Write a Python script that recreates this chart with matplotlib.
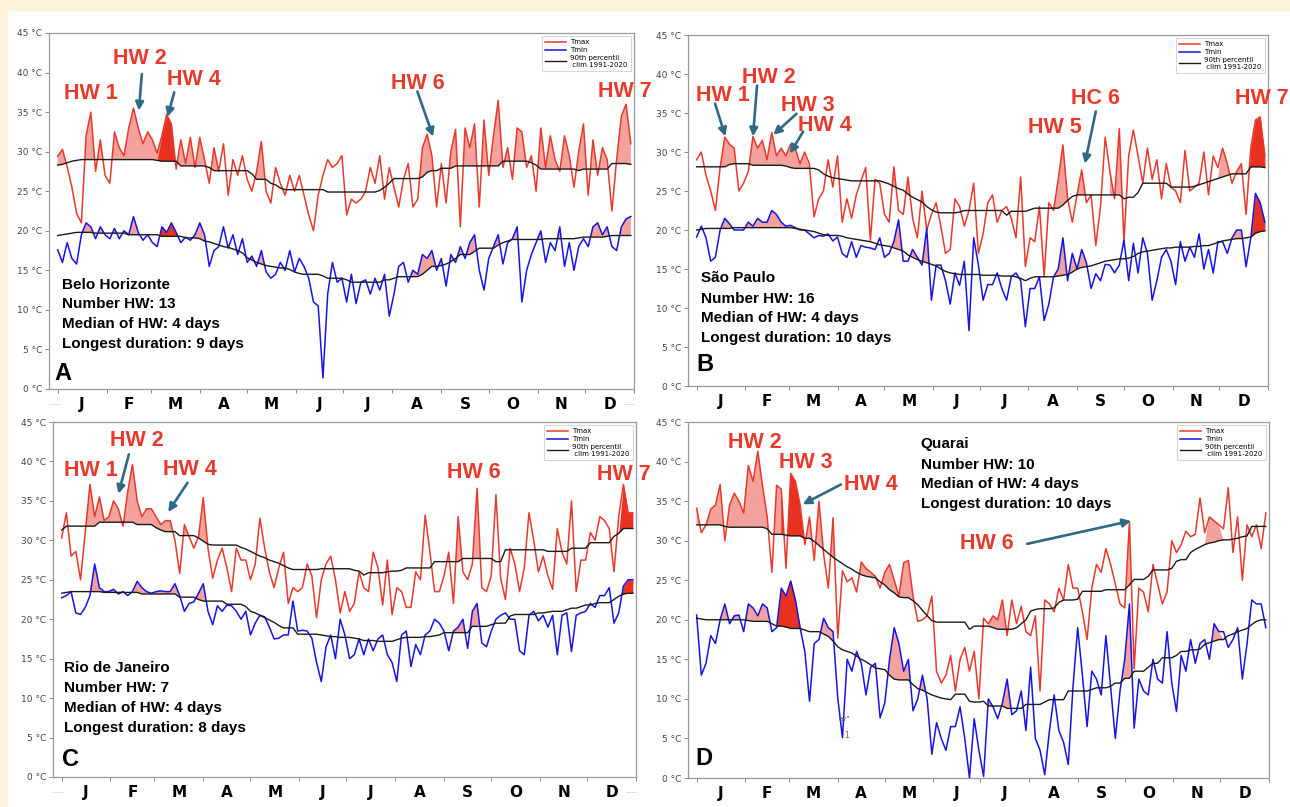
import numpy as np
import matplotlib
matplotlib.use("Agg")
import matplotlib.pyplot as plt
from matplotlib.patches import Rectangle
import matplotlib.transforms as mtransforms

STEP = 3  # days between samples (day 0 = 1 Jan)
MONTHS = ["J", "F", "M", "A", "M", "J", "J", "A", "S", "O", "N", "D"]
MONTH_START = [0, 31, 59, 90, 120, 151, 181, 212, 243, 273, 304, 334, 365]

# ---------------- A: Belo Horizonte ----------------
A_TMAX = [29.4, 30.3, 28.1, 25.5, 22.2, 21.0, 32.0, 35.0, 27.5, 31.5,
          27.0, 26.0, 32.5, 30.5, 29.5, 33.0, 35.5, 33.0, 31.0, 32.5,
          31.5, 29.8, 32.0, 34.7, 33.5, 27.8, 31.5, 28.5, 31.8, 28.0,
          31.8, 29.0, 26.0, 30.5, 27.5, 31.0, 24.5, 29.0, 27.0, 29.5,
          26.5, 25.0, 27.5, 31.3, 25.0, 23.5, 28.0, 26.0, 24.5, 27.0,
          25.0, 27.0, 24.5, 22.0, 20.0, 24.5, 27.0, 29.0, 28.0, 28.5,
          29.5, 22.0, 24.0, 23.5, 24.0, 25.0, 28.0, 26.0, 29.5, 24.0,
          28.0, 25.5, 23.0, 26.5, 28.5, 23.0, 24.0, 30.5, 32.2, 29.5,
          23.0, 28.5, 23.5, 30.0, 32.8, 20.5, 33.0, 30.5, 33.5, 23.0,
          34.0, 27.0, 32.0, 36.5, 28.0, 30.5, 26.5, 33.0, 32.5, 28.0,
          29.5, 25.0, 33.0, 28.0, 32.0, 29.0, 27.5, 32.0, 29.5, 25.5,
          30.0, 33.5, 24.5, 31.5, 27.0, 30.5, 29.0, 22.5, 29.0, 34.5,
          36.0, 31.0]
A_TMIN = [17.6, 16.0, 18.5, 16.5, 15.8, 19.5, 21.0, 20.5, 19.0, 20.5,
          19.5, 19.0, 20.3, 19.0, 20.0, 19.5, 21.8, 19.8, 18.8, 19.5,
          18.5, 18.0, 20.5, 19.8, 21.0, 19.8, 18.5, 19.2, 18.8, 19.5,
          21.0, 19.5, 15.5, 17.5, 18.0, 20.5, 17.8, 19.5, 17.0, 19.0,
          16.0, 16.8, 15.5, 17.5, 14.8, 14.0, 14.5, 16.0, 15.0, 17.5,
          14.8, 16.5, 15.5, 14.0, 11.0, 10.5, 1.4, 12.0, 16.0, 13.5,
          14.0, 11.0, 14.5, 10.8, 13.5, 13.8, 12.0, 14.0, 12.5, 14.5,
          9.2, 12.0, 15.5, 16.0, 13.5, 15.0, 14.5, 17.0, 16.5, 17.5,
          15.0, 16.5, 13.0, 17.0, 16.0, 18.0, 16.5, 18.5, 19.5, 15.0,
          12.5, 16.5, 18.0, 19.5, 15.8, 18.5, 19.0, 20.5, 11.0, 15.0,
          17.0, 18.5, 20.0, 16.0, 18.5, 17.5, 20.5, 15.5, 18.5, 15.0,
          18.0, 19.0, 18.0, 20.5, 21.0, 19.5, 20.5, 18.0, 17.5, 20.5,
          21.5, 21.8]
A_P90_MAX = [28.3, 28.4, 28.6, 28.8, 28.9, 29.0, 29.0, 29.0, 29.0, 29.0,
             29.0, 29.0, 29.0, 29.0, 29.0, 29.0, 29.0, 29.0, 29.0, 29.0,
             29.0, 28.9, 28.8, 28.8, 28.8, 28.8, 28.2, 28.2, 28.2, 28.2,
             28.2, 28.2, 28.0, 27.6, 27.6, 27.6, 27.6, 27.6, 27.6, 27.6,
             27.6, 27.2, 26.5, 26.5, 26.5, 26.0, 25.8, 25.4, 25.2, 25.2,
             25.2, 25.2, 25.2, 25.2, 25.2, 25.2, 25.2, 24.9, 24.9, 24.9,
             24.9, 24.9, 24.9, 24.9, 24.9, 24.9, 24.9, 24.9, 25.1, 25.5,
             26.0, 26.6, 26.6, 26.6, 26.6, 26.6, 26.6, 26.8, 27.4, 27.6,
             27.6, 27.9, 27.9, 27.9, 28.2, 28.2, 28.2, 28.2, 28.2, 28.2,
             28.2, 28.2, 28.2, 28.2, 28.8, 28.8, 28.8, 28.8, 28.8, 28.8,
             28.6, 28.3, 27.8, 27.8, 27.8, 27.8, 27.8, 27.8, 27.8, 27.8,
             27.6, 27.8, 27.8, 27.8, 27.8, 27.8, 27.8, 28.5, 28.5, 28.5,
             28.5, 28.4]
A_P90_MIN = [19.4, 19.5, 19.6, 19.7, 19.8, 19.8, 19.8, 19.8, 19.7, 19.7,
             19.7, 19.7, 19.7, 19.7, 19.7, 19.5, 19.5, 19.5, 19.5, 19.5,
             19.5, 19.5, 19.3, 19.3, 19.3, 19.3, 19.3, 19.1, 19.1, 19.1,
             19.0, 18.7, 18.6, 18.4, 18.2, 18.0, 17.9, 17.7, 17.5, 17.2,
             16.6, 16.3, 16.0, 15.8, 15.6, 15.5, 15.4, 15.3, 15.3, 15.1,
             14.8, 14.6, 14.5, 14.5, 14.5, 14.5, 14.3, 14.0, 14.0, 14.0,
             14.0, 13.8, 13.5, 13.5, 13.5, 13.5, 13.5, 13.5, 13.5, 13.8,
             13.8, 14.0, 14.2, 14.2, 14.2, 14.2, 14.2, 14.5, 15.0, 15.5,
             15.5, 15.6, 15.8, 16.1, 16.5, 17.0, 17.0, 17.0, 17.4, 17.8,
             17.8, 17.8, 17.8, 18.2, 18.5, 18.7, 18.9, 18.9, 18.9, 18.9,
             18.9, 18.9, 18.9, 19.0, 19.0, 19.0, 19.0, 19.0, 19.0, 19.0,
             19.1, 19.2, 19.2, 19.2, 19.2, 19.2, 19.3, 19.4, 19.4, 19.4,
             19.4, 19.4]

# ---------------- B: Sao Paulo ----------------
B_TMAX = [29.0, 30.0, 27.0, 25.0, 22.5, 28.0, 31.9, 31.0, 30.5, 25.0,
          26.0, 27.5, 32.0, 30.5, 31.5, 29.0, 32.5, 29.5, 30.5, 29.5,
          31.0, 30.5, 28.5, 30.0, 28.5, 21.7, 24.0, 25.0, 29.0, 25.5,
          29.5, 21.0, 24.0, 21.5, 24.5, 26.3, 28.0, 18.7, 26.5, 26.0,
          22.0, 21.0, 28.1, 22.5, 22.0, 26.8, 21.5, 19.0, 25.0, 20.0,
          22.0, 23.5, 20.5, 17.0, 17.5, 24.0, 23.0, 20.5, 22.5, 26.0,
          17.0, 19.5, 23.5, 24.5, 21.0, 22.5, 23.0, 21.5, 19.0, 26.8,
          15.3, 19.0, 18.5, 23.0, 14.0, 23.5, 22.5, 26.5, 30.9, 24.0,
          21.0, 24.5, 27.7, 23.5, 24.5, 18.0, 23.0, 31.9, 27.5, 24.0,
          33.0, 18.5, 29.5, 32.8, 29.5, 26.0, 30.5, 26.5, 29.0, 24.0,
          28.5, 25.5, 25.0, 23.5, 30.2, 25.0, 25.5, 26.0, 30.0, 24.5,
          29.5, 28.0, 30.5, 28.5, 26.0, 27.5, 28.5, 22.0, 30.5, 34.1,
          34.5, 29.5]
B_TMIN = [19.1, 20.5, 19.0, 16.0, 16.5, 20.0, 21.5, 20.8, 20.0, 20.0,
          20.0, 21.0, 20.5, 21.5, 21.0, 21.0, 22.5, 22.0, 21.0, 20.5,
          20.6, 20.3, 20.0, 20.0, 19.5, 19.0, 19.3, 19.2, 19.5, 18.6,
          19.1, 17.0, 16.5, 18.5, 16.5, 18.0, 17.8, 17.7, 17.5, 19.0,
          16.5, 17.0, 18.5, 21.3, 16.0, 16.0, 17.5, 16.5, 15.5, 20.2,
          11.0, 15.5, 15.5, 13.5, 10.5, 14.5, 12.9, 16.0, 7.1, 19.0,
          15.5, 11.0, 13.0, 13.0, 14.5, 12.5, 11.0, 14.0, 14.5, 13.5,
          7.6, 12.5, 12.5, 14.0, 8.4, 10.5, 14.0, 15.0, 19.0, 13.5,
          17.0, 15.0, 17.5, 15.8, 12.5, 14.4, 13.5, 15.6, 15.5, 14.5,
          15.5, 18.7, 13.5, 18.3, 14.5, 19.0, 17.0, 11.0, 13.5, 16.5,
          17.5, 16.0, 13.0, 18.5, 16.0, 17.8, 16.5, 19.5, 15.0, 17.5,
          14.5, 18.5, 18.5, 17.0, 19.0, 20.0, 20.0, 15.3, 19.0, 24.7,
          23.5, 21.0]
B_P90_MAX = [28.1, 28.1, 28.1, 28.1, 28.1, 28.1, 28.1, 28.4, 28.5, 28.5,
             28.5, 28.5, 28.3, 28.3, 28.3, 28.3, 28.3, 28.3, 28.3, 28.2,
             28.0, 27.9, 27.9, 27.9, 27.9, 27.9, 27.7, 27.2, 26.9, 26.7,
             26.6, 26.5, 26.4, 26.3, 26.3, 26.3, 26.3, 26.3, 26.3, 26.3,
             26.1, 25.9, 25.6, 25.3, 25.1, 24.6, 24.2, 23.9, 23.6, 23.0,
             22.6, 22.3, 22.2, 22.2, 22.2, 22.2, 22.3, 22.5, 22.5, 22.5,
             22.5, 22.5, 22.5, 22.5, 22.5, 22.5, 21.9, 22.4, 22.4, 22.4,
             22.4, 22.6, 22.8, 22.8, 22.8, 22.8, 22.8, 22.8, 23.2, 23.8,
             24.3, 24.5, 24.5, 24.5, 24.5, 24.5, 24.5, 24.5, 24.5, 24.5,
             24.5, 24.0, 24.2, 24.2, 24.8, 26.0, 26.0, 26.0, 26.0, 26.0,
             26.0, 25.5, 25.5, 25.5, 25.5, 25.5, 25.6, 25.8, 26.0, 26.2,
             26.4, 26.6, 26.8, 27.0, 27.2, 27.2, 27.2, 27.2, 28.1, 28.1,
             28.1, 28.0]
B_P90_MIN = [20.0, 20.1, 20.2, 20.2, 20.2, 20.2, 20.2, 20.2, 20.3, 20.3,
             20.3, 20.3, 20.3, 20.3, 20.3, 20.3, 20.3, 20.3, 20.3, 20.3,
             20.3, 20.2, 20.1, 20.0, 19.9, 19.8, 19.6, 19.4, 19.3, 19.3,
             19.3, 19.2, 19.0, 18.9, 18.8, 18.7, 18.6, 18.5, 18.3, 18.1,
             18.0, 17.9, 17.7, 17.5, 17.3, 16.8, 16.5, 16.2, 16.0, 15.8,
             15.6, 15.4, 15.0, 14.7, 14.5, 14.4, 14.3, 14.3, 14.3, 14.3,
             14.3, 14.2, 14.2, 14.2, 14.2, 14.1, 14.1, 14.1, 14.0, 13.8,
             13.5, 13.8, 14.0, 14.0, 14.0, 14.0, 14.0, 14.1, 14.2, 14.3,
             14.6, 15.0, 15.2, 15.3, 15.4, 15.6, 15.8, 16.0, 16.1, 16.2,
             16.3, 16.3, 16.4, 16.6, 17.0, 17.2, 17.3, 17.4, 17.5, 17.6,
             17.7, 17.7, 17.8, 17.8, 17.8, 17.8, 17.9, 17.9, 18.0, 18.0,
             18.2, 18.4, 18.6, 18.7, 18.8, 18.9, 18.9, 19.0, 19.1, 19.6,
             19.8, 19.9]

# ---------------- C: Rio de Janeiro ----------------
C_TMAX = [30.3, 33.5, 28.0, 28.6, 25.0, 31.0, 37.1, 33.0, 35.5, 32.5,
          33.0, 35.0, 34.0, 31.8, 36.2, 39.6, 35.0, 33.0, 34.0, 34.0,
          33.0, 32.0, 32.5, 32.5, 30.0, 25.8, 32.0, 30.5, 29.0, 30.5,
          35.4, 29.0, 25.2, 27.5, 29.0, 26.5, 23.5, 29.0, 27.5, 27.5,
          25.0, 27.0, 32.8, 29.0, 26.0, 24.0, 26.5, 28.5, 22.0, 24.0,
          23.5, 24.0, 27.0, 25.5, 20.2, 25.0, 27.0, 28.0, 25.0, 20.8,
          23.5, 21.0, 22.0, 26.0, 24.0, 23.5, 28.5, 26.5, 21.8, 27.5,
          20.6, 24.0, 23.5, 21.5, 21.5, 26.0, 25.0, 33.2, 28.6, 23.5,
          23.5, 25.5, 28.5, 22.0, 33.0, 26.0, 25.0, 27.0, 36.6, 24.0,
          23.5, 25.5, 35.8, 25.2, 22.5, 29.0, 27.0, 23.5, 26.5, 33.5,
          30.0, 26.0, 28.0, 25.5, 23.8, 31.5, 28.5, 27.0, 35.0, 23.5,
          27.5, 27.5, 31.0, 30.0, 33.0, 32.5, 31.5, 26.0, 33.0, 37.1,
          33.5, 33.5]
C_TMIN = [22.7, 23.0, 23.5, 20.8, 20.6, 21.5, 23.0, 27.0, 24.0, 23.5,
          23.5, 23.8, 23.2, 23.5, 23.0, 23.5, 24.8, 24.0, 23.5, 23.3,
          23.5, 23.6, 23.5, 23.5, 24.5, 23.0, 21.0, 22.0, 22.2, 23.3,
          24.5, 21.0, 19.3, 21.7, 21.0, 21.8, 21.7, 21.0, 20.0, 21.0,
          18.0, 19.5, 20.5, 20.3, 19.0, 17.5, 17.6, 18.0, 18.0, 22.3,
          18.5, 18.6, 18.5, 17.6, 14.5, 12.1, 16.5, 18.0, 15.0, 20.0,
          18.0, 15.0, 15.5, 17.5, 15.5, 17.5, 16.0, 17.5, 18.0, 15.5,
          14.5, 12.1, 18.0, 18.5, 14.0, 16.8, 15.5, 18.0, 18.5, 20.0,
          19.5, 18.5, 16.0, 18.5, 19.0, 20.0, 16.3, 21.0, 22.0, 17.0,
          16.5, 18.5, 20.0, 20.5, 20.8, 20.0, 20.0, 16.0, 15.5, 20.5,
          21.0, 19.8, 20.5, 19.0, 20.5, 15.5, 20.5, 20.8, 15.9, 20.5,
          20.8, 21.0, 22.0, 21.5, 23.0, 23.0, 24.0, 19.5, 20.8, 24.2,
          25.0, 25.0]
C_P90_MAX = [31.3, 31.8, 31.8, 31.8, 31.8, 31.8, 31.8, 31.8, 32.3, 32.3,
             32.3, 32.3, 32.3, 32.3, 32.3, 32.3, 32.0, 32.0, 32.0, 32.0,
             31.6, 31.3, 31.1, 31.1, 31.1, 30.6, 30.6, 30.6, 30.6, 30.3,
             29.9, 29.5, 29.4, 29.4, 29.4, 29.4, 29.4, 29.4, 29.1, 28.9,
             28.6, 28.3, 28.0, 27.8, 27.5, 27.3, 27.1, 26.8, 26.5, 26.3,
             26.3, 26.3, 26.3, 26.3, 26.3, 26.4, 26.4, 26.4, 26.4, 26.4,
             26.4, 26.4, 26.2, 26.1, 25.6, 25.9, 25.9, 25.9, 25.9, 26.0,
             26.1, 26.1, 26.2, 26.5, 26.5, 26.5, 26.5, 26.5, 26.5, 27.3,
             27.3, 27.3, 27.3, 27.3, 27.3, 27.7, 27.7, 27.7, 27.7, 27.7,
             27.7, 27.7, 27.3, 27.3, 28.8, 28.8, 28.8, 28.8, 28.8, 28.8,
             28.8, 28.8, 28.8, 28.6, 28.6, 28.6, 28.6, 28.6, 29.0, 29.0,
             29.0, 29.0, 29.7, 29.7, 29.7, 29.7, 29.7, 30.5, 30.9, 31.5,
             31.5, 31.5]
C_P90_MIN = [23.3, 23.4, 23.5, 23.5, 23.5, 23.5, 23.5, 23.5, 23.5, 23.4,
             23.4, 23.4, 23.4, 23.4, 23.4, 23.4, 23.4, 23.2, 23.2, 23.2,
             23.2, 23.2, 23.2, 23.2, 23.2, 22.8, 22.8, 22.8, 22.8, 22.5,
             22.3, 22.3, 22.3, 22.3, 22.3, 21.9, 21.9, 21.9, 21.9, 21.6,
             21.0, 20.8, 20.5, 20.2, 19.9, 19.6, 19.2, 18.9, 18.9, 18.9,
             18.1, 18.1, 18.1, 18.1, 18.1, 18.0, 17.9, 17.8, 17.8, 17.7,
             17.7, 17.7, 17.6, 17.5, 17.3, 17.3, 17.3, 17.2, 17.2, 17.2,
             17.2, 17.4, 17.6, 17.7, 17.7, 17.7, 17.7, 17.8, 17.8, 17.9,
             18.0, 18.3, 18.3, 18.3, 18.3, 18.3, 18.3, 19.1, 19.1, 19.1,
             19.1, 19.3, 19.5, 19.5, 19.5, 20.4, 20.6, 20.6, 20.6, 20.6,
             20.6, 20.8, 20.8, 20.9, 21.0, 21.0, 21.0, 21.2, 21.4, 21.4,
             21.6, 21.8, 21.8, 22.0, 22.1, 22.1, 22.1, 22.5, 22.9, 23.2,
             23.3, 23.3]

# ---------------- D: Quarai ----------------
D_TMAX = [34.1, 31.0, 32.0, 34.0, 34.5, 37.1, 30.0, 34.5, 36.0, 35.0,
          33.5, 39.5, 37.5, 41.3, 37.0, 33.0, 26.0, 37.0, 36.5, 26.5,
          38.5, 37.5, 34.5, 29.5, 33.0, 27.5, 35.0, 28.3, 24.0, 32.9,
          17.7, 26.2, 24.8, 25.3, 23.5, 27.3, 26.5, 26.0, 25.5, 24.0,
          26.0, 27.0, 25.0, 23.0, 27.2, 27.5, 23.0, 19.8, 20.0, 20.5,
          23.0, 13.5, 12.0, 13.0, 15.5, 11.0, 15.0, 16.5, 13.5, 16.0,
          10.0, 20.2, 19.5, 20.5, 20.0, 22.5, 18.0, 22.5, 19.5, 21.7,
          18.5, 18.0, 20.5, 11.0, 22.5, 22.0, 21.0, 24.0, 22.5, 27.0,
          24.0, 24.0, 21.0, 17.5, 24.0, 27.0, 26.0, 29.0, 27.0, 24.5,
          22.0, 21.5, 32.4, 13.8, 24.0, 23.5, 21.0, 27.0, 24.5, 22.0,
          23.5, 30.0, 28.5, 29.5, 31.2, 30.5, 30.8, 35.4, 31.0, 33.0,
          32.5, 32.0, 31.5, 36.7, 28.5, 33.0, 25.0, 32.0, 30.5, 32.0,
          29.0, 33.5]
D_TMIN = [20.6, 13.0, 14.5, 18.0, 17.0, 20.0, 22.0, 19.5, 20.5, 20.6,
          18.5, 22.0, 21.5, 20.5, 22.0, 21.5, 18.5, 19.0, 24.0, 23.0,
          24.9, 22.5, 19.0, 16.0, 9.7, 17.0, 17.5, 20.2, 19.0, 18.5,
          10.1, 5.1, 15.0, 13.5, 16.0, 14.5, 10.5, 14.0, 14.5, 7.6,
          9.5, 15.0, 19.0, 17.0, 13.5, 15.0, 8.5, 10.0, 13.0, 10.0,
          3.0, 7.0, 5.0, 3.5, 6.5, 6.5, 9.0, 5.0, 0.0, 7.5,
          3.5, 0.2, 10.0, 9.0, 7.5, 9.5, 12.5, 8.0, 8.5, 11.0,
          6.0, 14.0, 5.0, 3.5, 0.4, 6.0, 10.5, 6.0, 4.5, 1.7,
          11.5, 19.0, 13.0, 6.5, 13.5, 12.5, 10.5, 18.0, 11.5, 5.0,
          11.0, 15.0, 22.0, 6.3, 12.5, 11.0, 10.5, 15.0, 12.5, 12.0,
          18.5, 12.0, 8.4, 15.5, 13.5, 17.5, 14.5, 17.0, 17.5, 15.0,
          19.5, 18.5, 18.5, 16.5, 17.5, 19.0, 12.5, 17.0, 22.5, 22.0,
          22.0, 19.0]
D_P90_MAX = [32.0, 32.0, 32.0, 32.0, 32.0, 32.0, 31.8, 31.7, 31.7, 31.7,
             31.7, 31.7, 31.7, 31.7, 31.7, 31.5, 30.8, 30.8, 30.8, 30.7,
             30.6, 30.6, 30.6, 30.3, 30.3, 29.9, 29.4, 28.9, 28.4, 27.9,
             27.5, 27.1, 26.7, 26.4, 26.0, 25.7, 25.5, 25.4, 25.3, 24.8,
             24.4, 23.8, 23.4, 22.9, 22.8, 22.8, 22.4, 21.9, 21.2, 20.5,
             19.9, 19.7, 19.7, 19.7, 19.7, 19.7, 19.7, 19.7, 18.8, 19.2,
             19.2, 19.2, 19.2, 19.0, 18.8, 18.8, 18.8, 18.8, 19.0, 19.5,
             20.0, 21.1, 21.3, 21.4, 21.4, 21.4, 21.5, 22.2, 22.5, 22.5,
             22.5, 22.6, 23.6, 23.6, 23.6, 23.6, 23.6, 23.8, 23.8, 23.8,
             23.8, 23.8, 24.4, 25.1, 25.1, 25.1, 25.5, 26.3, 26.3, 26.3,
             26.3, 26.5, 27.4, 27.6, 27.6, 28.5, 28.9, 29.2, 29.5, 29.7,
             29.8, 30.0, 30.1, 30.1, 30.2, 30.3, 30.5, 30.6, 31.8, 31.8,
             31.8, 31.8]
D_P90_MIN = [20.2, 20.1, 20.0, 20.0, 20.0, 20.0, 20.0, 20.0, 20.0, 20.0,
             20.0, 19.9, 19.8, 19.8, 19.8, 19.8, 19.5, 19.2, 19.2, 19.1,
             18.9, 18.9, 18.9, 18.7, 18.5, 18.5, 18.5, 18.2, 17.9, 17.3,
             16.6, 16.2, 16.0, 15.8, 15.4, 15.0, 14.7, 14.3, 13.9, 13.8,
             13.7, 13.0, 12.5, 12.4, 12.4, 12.4, 11.8, 11.3, 11.1, 10.8,
             10.5, 10.3, 10.1, 10.0, 9.9, 10.6, 10.6, 10.6, 9.7, 9.6,
             9.6, 9.7, 9.1, 9.1, 9.1, 9.1, 8.8, 8.8, 8.8, 8.8,
             9.3, 9.3, 9.3, 9.3, 9.6, 9.9, 9.9, 9.9, 9.9, 11.0,
             11.0, 11.0, 11.0, 11.0, 11.2, 11.4, 11.4, 11.4, 11.6, 12.0,
             12.0, 12.6, 12.6, 13.5, 13.5, 13.5, 14.0, 14.5, 14.5, 15.2,
             15.2, 15.2, 15.5, 16.0, 16.0, 16.2, 16.2, 16.3, 16.9, 17.1,
             17.3, 17.5, 17.5, 18.0, 18.2, 18.5, 18.7, 18.9, 19.4, 19.8,
             20.0, 20.0]

STATIONS = ["Belo Horizonte", "São Paulo", "Rio de Janeiro", "Quarai"]
NUMBER_HW = [13, 16, 7, 10]
MEDIAN_HW = [4, 4, 4, 4]
LONGEST_HW = [9, 10, 8, 10]
PANEL_LETTERS = ["A", "B", "C", "D"]

# ---------------- style ----------------
RED = "#E8392A"
BLUE = "#1414E6"
PINK = "#F2A19C"
SOLID = "#E8321F"
ARROW = "#2E6985"
CREAM = "#FFF4DA"
FONT = ["Liberation Sans", "DejaVu Sans"]

W, H = 1290, 807
fig = plt.figure(figsize=(W / 100, H / 100), dpi=100)
fig.patch.set_facecolor("white")
fig.patches.append(Rectangle((0, 1 - 10 / H), 1, 10 / H, transform=fig.transFigure,
                             color=CREAM, zorder=0))
fig.patches.append(Rectangle((0, 0), 7 / W, 1, transform=fig.transFigure,
                             color=CREAM, zorder=0))


def px_rect(l, t, r, b):
    return [l / W, 1 - b / H, (r - l) / W, (b - t) / H]


def fill_hw(ax, t, c, ranges, color, z):
    t = np.asarray(t, float)
    c = np.asarray(c, float)
    n = min(len(t), len(c))
    x = np.arange(n) * STEP
    t, c = t[:n], c[:n]
    inr = np.zeros(n, bool)
    for s, e in ranges:
        inr |= (x >= s) & (x <= e)
    ax.fill_between(x, c, t, where=(t > c) & inr, interpolate=True,
                    color=color, lw=0, zorder=z)


def panel(ax, tmax, tmin, pmax, pmin, pink, solid, dashes):
    for t, c in ((tmax, pmax), (tmin, pmin)):
        fill_hw(ax, t, c, pink, PINK, 1)
        fill_hw(ax, t, c, solid, SOLID, 2)
    ax.plot(np.arange(len(tmax)) * STEP, tmax, color=RED, lw=1.1, zorder=3, label="Tmax")
    ax.plot(np.arange(len(tmin)) * STEP, tmin, color=BLUE, lw=1.1, zorder=3, label="Tmin")
    ax.plot(np.arange(len(pmax)) * STEP, pmax, color="#1a1a1a", lw=1.0, zorder=4,
            label="90th percentil\n clim 1991-2020")
    ax.plot(np.arange(len(pmin)) * STEP, pmin, color="#1a1a1a", lw=1.0, zorder=4)
    ax.set_xlim(-5.5, 365)
    ax.set_ylim(0, 45)
    yt = np.arange(0, 46, 5)
    ax.set_yticks(yt)
    ax.set_yticklabels([f"{v} °C" for v in yt], fontsize=6.5, color="#444444")
    ax.tick_params(axis="y", length=3, width=0.7, color="#888888", pad=2)
    ax.set_xticks(MONTH_START)
    ax.set_xticklabels([])
    ax.tick_params(axis="x", which="major", length=3, width=0.7, color="#888888")
    mids = [(MONTH_START[i] + MONTH_START[i + 1]) / 2 for i in range(12)]
    ax.set_xticks(mids, minor=True)
    ax.set_xticklabels(MONTHS, minor=True, fontsize=11, fontweight="bold",
                       family="DejaVu Sans")
    ax.tick_params(axis="x", which="minor", length=0, pad=6)
    for s in ax.spines.values():
        s.set_color("#999999")
        s.set_linewidth(0.9)
    leg = ax.legend(loc="upper right", fontsize=5, frameon=True, fancybox=False,
                    edgecolor="#cccccc", handlelength=3.0, labelspacing=0.25,
                    borderpad=0.45, borderaxespad=0.45, handletextpad=0.6)
    leg.get_frame().set_linewidth(0.8)
    if dashes:
        tr = mtransforms.blended_transform_factory(ax.transData, ax.transAxes)
        for xd in (-2, 362):
            ax.text(xd, -0.045, "----", transform=tr, ha="center", va="center",
                    fontsize=6, color="#cccccc")


def hw_label(ax, txt, x, y):
    ax.text(x, y, txt, color=RED, fontsize=15.5, fontweight="bold", family=FONT,
            ha="center", va="center", clip_on=False, zorder=6)


def arrow(ax, tail, head):
    ax.annotate("", xy=head, xytext=tail, zorder=6,
                arrowprops=dict(arrowstyle="-|>", color=ARROW, lw=1.9,
                                mutation_scale=12, shrinkA=0, shrinkB=0))


def info(ax, i, x, ys):
    lines = [STATIONS[i], f"Number HW: {NUMBER_HW[i]}",
             f"Median of HW: {MEDIAN_HW[i]} days",
             f"Longest duration: {LONGEST_HW[i]} days"]
    for ln, y in zip(lines, ys):
        ax.text(x, y, ln, fontsize=11, fontweight="bold", family=FONT,
                ha="left", va="center", zorder=6)


def letter(ax, i, x, y):
    ax.text(x, y, PANEL_LETTERS[i], fontsize=17, fontweight="bold", family=FONT,
            ha="center", va="center", zorder=6)


axA = fig.add_axes(px_rect(49, 33, 634, 389))
axB = fig.add_axes(px_rect(688, 35, 1268, 386))
axC = fig.add_axes(px_rect(53, 422, 636, 777))
axD = fig.add_axes(px_rect(688, 422, 1269, 778))

# A
panel(axA, A_TMAX, A_TMIN, A_P90_MAX, A_P90_MIN,
      [(0, 100), (120, 135), (225, 365)], [(64, 75)], True)
hw_label(axA, "HW 1", 21, 37.4)
hw_label(axA, "HW 2", 52, 41.8)
hw_label(axA, "HW 4", 86, 39.1)
hw_label(axA, "HW 6", 228, 38.6)
hw_label(axA, "HW 7", 359, 37.6)
arrow(axA, (53.3, 39.8), (51.4, 35.2))
arrow(axA, (73.8, 37.5), (69.6, 34.4))
arrow(axA, (227.8, 37.6), (237.8, 31.9))
info(axA, 0, 3, [13.2, 10.7, 8.2, 5.7])
letter(axA, 0, 3.5, 2.0)

# B
panel(axB, B_TMAX, B_TMIN, B_P90_MAX, B_P90_MIN,
      [(10, 70), (120, 150), (228, 250), (262, 270), (335, 352)], [(352, 365)], False)
hw_label(axB, "HW 1", 17, 37.3)
hw_label(axB, "HW 2", 46, 39.6)
hw_label(axB, "HW 3", 71, 35.9)
hw_label(axB, "HW 4", 82, 33.4)
hw_label(axB, "HW 5", 229, 33.1)
hw_label(axB, "HC 6", 254.6, 36.9)
hw_label(axB, "HW 7", 361, 36.9)
arrow(axB, (11.8, 36.2), (18.4, 32.0))
arrow(axB, (38.6, 38.5), (36.0, 32.0))
arrow(axB, (63.8, 34.9), (49.0, 32.2))
arrow(axB, (68.0, 32.6), (59.6, 29.8))
arrow(axB, (255.0, 35.2), (248.0, 28.5))
info(axB, 1, 3, [13.8, 11.2, 8.7, 6.1])
letter(axB, 1, 5.2, 2.7)

# C
panel(axC, C_TMAX, C_TMIN, C_P90_MAX, C_P90_MIN, [(10, 100), (245, 270)], [(355, 365)], True)
hw_label(axC, "HW 1", 18.4, 38.8)
hw_label(axC, "HW 2", 48, 42.6)
hw_label(axC, "HW 4", 81.4, 39.0)
hw_label(axC, "HW 6", 262, 38.6)
hw_label(axC, "HW 7", 357.6, 38.3)
arrow(axC, (42.7, 40.9), (36.1, 35.9))
arrow(axC, (80.0, 37.3), (67.7, 33.6))
info(axC, 2, 1.8, [13.8, 11.3, 8.8, 6.2])
letter(axC, 2, 5.8, 2.2)

# D
panel(axD, D_TMAX, D_TMIN, D_P90_MAX, D_P90_MIN,
      [(0, 90), (100, 145), (185, 200), (270, 282), (325, 335)], [(52, 67)], False)
hw_label(axD, "HW 2", 37, 42.4)
hw_label(axD, "HW 3", 69.6, 39.9)
hw_label(axD, "HW 4", 111, 37.1)
hw_label(axD, "HW 6", 185, 29.7)
arrow(axD, (92, 37.1), (67.7, 34.6))
arrow(axD, (210.8, 29.6), (277, 32.5))
info(axD, 3, 143, [42.2, 39.6, 37.2, 34.6])
letter(axD, 3, 4.7, 2.5)
axD.text(94, 7.4, "ay\"", fontsize=5, color="#555555", ha="center", va="center", zorder=6)
axD.text(95.5, 5.4, "1", fontsize=5.5, color=RED, ha="center", va="center", zorder=6)

fig.savefig("out.png", dpi=100, facecolor=fig.get_facecolor())
